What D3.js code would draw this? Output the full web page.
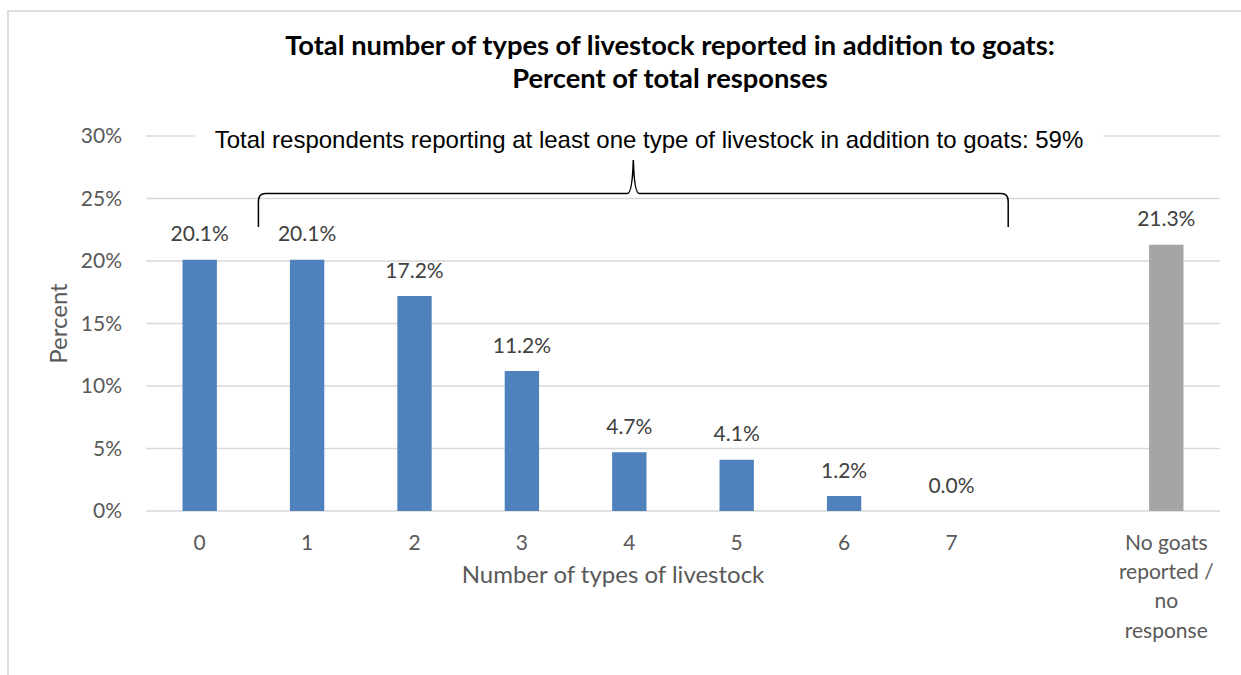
<!DOCTYPE html>
<html>
<head>
<meta charset="utf-8">
<script src="https://cdn.jsdelivr.net/npm/d3@7"></script>
<style>
  html, body { margin: 0; padding: 0; background: #fff; }
  svg { display: block; }
</style>
</head>
<body>
<svg id="chart" width="1241" height="675"></svg>
<script>
// Categories along the x axis; the empty slot keeps a gap before the last group
const categories = ["0", "1", "2", "3", "4", "5", "6", "7", "gap", "none"];
const categoryLabels = {
  "none": ["No goats", "reported /", "no", "response"]
};
// Percent of total responses per category (null = no bar)
const percentValues = [20.1, 20.1, 17.2, 11.2, 4.7, 4.1, 1.2, 0.0, null, 21.3];
const barColors = ["#4f81bd", "#4f81bd", "#4f81bd", "#4f81bd", "#4f81bd", "#4f81bd", "#4f81bd", "#4f81bd", null, "#a5a5a5"];
const yTicks = [0, 5, 10, 15, 20, 25, 30];
const titleLines = ["Total number of types of livestock reported in addition to goats:", "Percent of total responses"];
const bracketText = "Total respondents reporting at least one type of livestock in addition to goats: 59%";
const bracketSpan = ["1", "7"];

const svg = d3.select("#chart");
const W = 1241, H = 675;
const plot = { left: 146, right: 1220, top: 136, bottom: 511 };
const calibriLike = "Lato, 'Open Sans', sans-serif";

// chart frame
svg.append("path")
  .attr("d", `M8,${H} L8,11 L${W},11`)
  .attr("fill", "none")
  .attr("stroke", "#e0e0e0")
  .attr("stroke-width", 2);

const x = d3.scaleBand().domain(categories).range([plot.left, plot.right]).padding(0);
const y = d3.scaleLinear().domain([0, 30]).range([plot.bottom, plot.top]);
const barW = x.bandwidth() * 0.32;

// gridlines
svg.append("g").selectAll("line").data(yTicks).join("line")
  .attr("x1", plot.left).attr("x2", plot.right)
  .attr("y1", d => y(d)).attr("y2", d => y(d))
  .attr("stroke", "#d9d9d9").attr("stroke-width", 1.3);

// y axis tick labels
const yAxis = d3.axisLeft(y).tickValues(yTicks).tickFormat(d => d + "%").tickSize(0).tickPadding(0);
const yg = svg.append("g").attr("transform", `translate(${plot.left - 24},0)`).call(yAxis);
yg.select(".domain").remove();
yg.selectAll("text")
  .attr("font-family", calibriLike).attr("font-size", 21).attr("fill", "#595959");

// bars
const data = categories.map((c, i) => ({ c, v: percentValues[i], color: barColors[i] }))
  .filter(d => d.v !== null);
svg.append("g").selectAll("rect").data(data).join("rect")
  .attr("x", d => x(d.c) + x.bandwidth() / 2 - barW / 2)
  .attr("width", barW)
  .attr("y", d => y(d.v))
  .attr("height", d => y(0) - y(d.v))
  .attr("fill", d => d.color);

// value labels
svg.append("g").selectAll("text").data(data).join("text")
  .attr("x", d => x(d.c) + x.bandwidth() / 2)
  .attr("y", d => y(d.v) - 18.5)
  .attr("text-anchor", "middle")
  .attr("font-family", calibriLike).attr("font-size", 21).attr("fill", "#404040")
  .text(d => d.v.toFixed(1) + "%");

// x axis category labels
const xg = svg.append("g");
categories.forEach(c => {
  if (c === "gap") return;
  const lines = categoryLabels[c] || [c];
  const t = xg.append("text")
    .attr("x", x(c) + x.bandwidth() / 2)
    .attr("y", plot.bottom + 38.5)
    .attr("text-anchor", "middle")
    .attr("font-family", calibriLike).attr("font-size", 21).attr("fill", "#595959");
  lines.forEach((ln, i) => t.append("tspan")
    .attr("x", x(c) + x.bandwidth() / 2)
    .attr("dy", i === 0 ? 0 : 29.4)
    .text(ln));
});

// axis titles
svg.append("text")
  .attr("x", 613).attr("y", 583)
  .attr("text-anchor", "middle")
  .attr("font-family", calibriLike).attr("font-size", 24).attr("fill", "#595959")
  .text("Number of types of livestock");

svg.append("text")
  .attr("transform", `translate(67,${(plot.top + plot.bottom) / 2}) rotate(-90)`)
  .attr("text-anchor", "middle")
  .attr("font-family", calibriLike).attr("font-size", 24).attr("fill", "#595959")
  .text("Percent");

// chart title
svg.append("g").selectAll("text").data(titleLines).join("text")
  .attr("x", 670).attr("y", (d, i) => 55 + i * 33)
  .attr("text-anchor", "middle")
  .attr("font-family", calibriLike).attr("font-weight", "bold").attr("font-size", 27.3).attr("fill", "#000")
  .text(d => d);

// brace spanning the categories with at least one other type of livestock
const bx0 = x(bracketSpan[0]) + 5;
const bx1 = x(bracketSpan[1]) + x.bandwidth() + 3;
const bmid = (bx0 + bx1) / 2;
const bBase = 227, bTop = 193.5, bPeak = 160, r = 5;
const brace = d3.path();
brace.moveTo(bx0, bBase);
brace.lineTo(bx0, bTop + r + 3);
brace.quadraticCurveTo(bx0, bTop, bx0 + r + 2, bTop);
brace.lineTo(bmid - 6, bTop);
brace.quadraticCurveTo(bmid - 1, bTop, bmid, bPeak);
brace.quadraticCurveTo(bmid + 1, bTop, bmid + 6, bTop);
brace.lineTo(bx1 - r - 2, bTop);
brace.quadraticCurveTo(bx1, bTop, bx1, bTop + r + 3);
brace.lineTo(bx1, bBase);
svg.append("path")
  .attr("d", brace.toString())
  .attr("fill", "none").attr("stroke", "#000").attr("stroke-width", 1.5);

// brace caption on a white backing so the top gridline breaks around it
const cap = svg.append("text")
  .attr("x", 649).attr("y", 148)
  .attr("text-anchor", "middle")
  .attr("font-family", "'Liberation Sans', Arial, sans-serif").attr("font-size", 24).attr("fill", "#000")
  .text(bracketText);
const bb = cap.node().getBBox();
svg.insert("rect", () => cap.node())
  .attr("x", bb.x - 20).attr("y", bb.y).attr("width", bb.width + 40).attr("height", bb.height)
  .attr("fill", "#fff");
</script>
</body>
</html>
